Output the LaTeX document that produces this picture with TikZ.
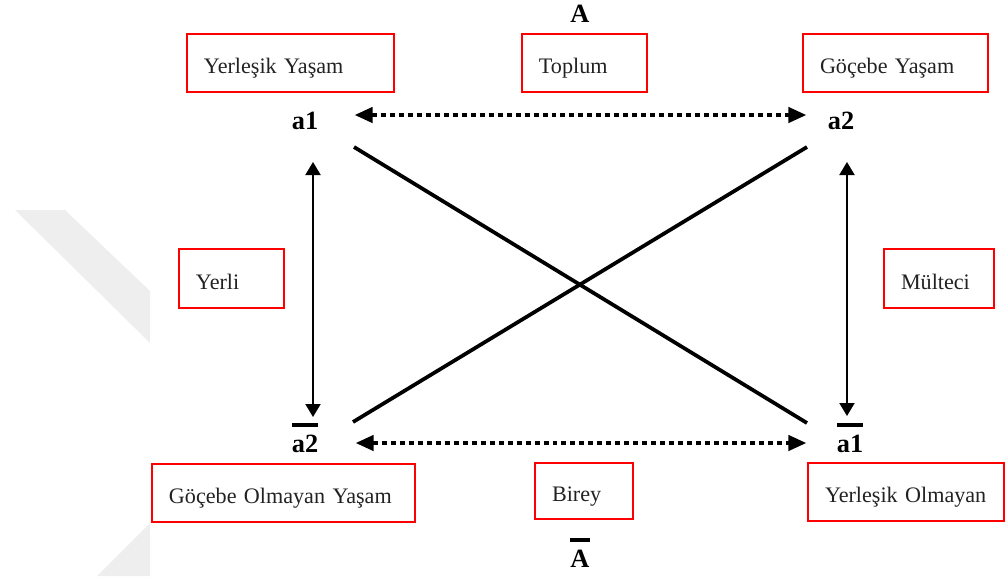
\documentclass[tikz,border=0pt]{standalone}
\usepackage{fontspec}
\setmainfont{Liberation Serif}
\usetikzlibrary{arrows.meta}

\definecolor{boxred}{RGB}{255,0,0}
\definecolor{inkgray}{RGB}{34,34,34}
\definecolor{markgray}{RGB}{238,238,238}

\newsavebox\polebox
\newcommand{\barlabel}[1]{%
    \sbox{\polebox}{#1}%
    \rlap{\raisebox{14pt}{\rule{\wd\polebox}{2.6pt}}}\usebox{\polebox}}

\begin{document}
\begin{tikzpicture}[
    x=0.02cm, y=-0.02cm,                % one unit = one pixel
    box/.style={                        % the red frames
        draw=boxred, line width=0.04cm, anchor=north west,
        inner xsep=0.34cm, inner ysep=0pt, align=left,
        text height=12pt, text depth=0pt, text=inkgray,
        font=\fontsize{12.6}{15}\selectfont
    },
    pole/.style={                       % the bold terms
        inner sep=0pt, anchor=base,
        font=\fontsize{15}{18}\selectfont\bfseries
    },
    dotarrow/.style={
        line width=0.08cm, dash pattern=on 0.1cm off 0.08cm,
        >={Triangle[length=0.36cm,width=0.3cm]}, <->
    },
    vert/.style={
        line width=0.04cm,
        >={Triangle[length=0.26cm,width=0.3cm]}, <->
    },
    cross/.style={line width=0.075cm},
 ]
    \useasboundingbox (0,0) rectangle (1005,576);
    % ~~~ faint watermark ~~~~~~~~~~~~~~~~~~~~~~~~~~~~~~~~~~~
    \fill[markgray] (15,210) -- (65,210) -- (150,291) -- (150,343) -- cycle;
    \fill[markgray] (150,523) -- (150,576) -- (97,576) -- cycle;
    % ~~~ frames ~~~~~~~~~~~~~~~~~~~~~~~~~~~~~~~~~~~~~~~~~~~~
    \foreach \nm/\x/\y/\w/\h/\txt in {
            yasam/186/33/207/58/Yerleşik Yaşam,
            toplum/521/33/125/58/Toplum,
            gocebe/802/33/185/58/Göçebe Yaşam,
            yerli/178/248/105/59/Yerli,
            multeci/883/248/110/59/Mülteci,
            golmayan/151/463/263/58/Göçebe Olmayan Yaşam,
            birey/534/462/98/56/Birey,
            yolmayan/807/462/196/58/Yerleşik Olmayan}
        \node[box, text width=\fpeval{(\w-34)*0.02}cm,
              minimum height=\fpeval{\h*0.02}cm] (\nm) at (\x,\y) {\txt};
    % ~~~ terms of the square ~~~~~~~~~~~~~~~~~~~~~~~~~~~~~~~
    \node[pole] (Atop)  at (580,22)  {A};
    \node[pole] (a1)    at (305,129) {a1};
    \node[pole] (a2)    at (841,129) {a2};
    \node[pole] (a2bar) at (305,452) {\barlabel{a2}};
    \node[pole] (a1bar) at (850,452) {\barlabel{a1}};
    \node[pole] (Abar)  at (580,567) {\barlabel{A}};
    % ~~~ contraries ~~~~~~~~~~~~~~~~~~~~~~~~~~~~~~~~~~~~~~~~
    \draw[dotarrow] ([shift={(36,-14)}]a1.base east)
                 -- ([shift={(-21,-14)}]a2.base west);
    \draw[dotarrow] ([shift={(37,-9)}]a2bar.base east)
                 -- ([shift={(-30,-9)}]a1bar.base west);
    % ~~~ contradictions ~~~~~~~~~~~~~~~~~~~~~~~~~~~~~~~~~~~~
    \draw[cross] ([shift={(49,18)}]a1.base) -- ([shift={(-43,-29)}]a1bar.base);
    \draw[cross] ([shift={(-34,18)}]a2.base) -- ([shift={(48,-30)}]a2bar.base);
    % ~~~ implications ~~~~~~~~~~~~~~~~~~~~~~~~~~~~~~~~~~~~~~
    \draw[vert] ([shift={(8,33)}]a1.base) -- ([shift={(8,-35)}]a2bar.base);
    \draw[vert] ([shift={(6,33)}]a2.base) -- ([shift={(-3,-36)}]a1bar.base);
\end{tikzpicture}
\end{document}
